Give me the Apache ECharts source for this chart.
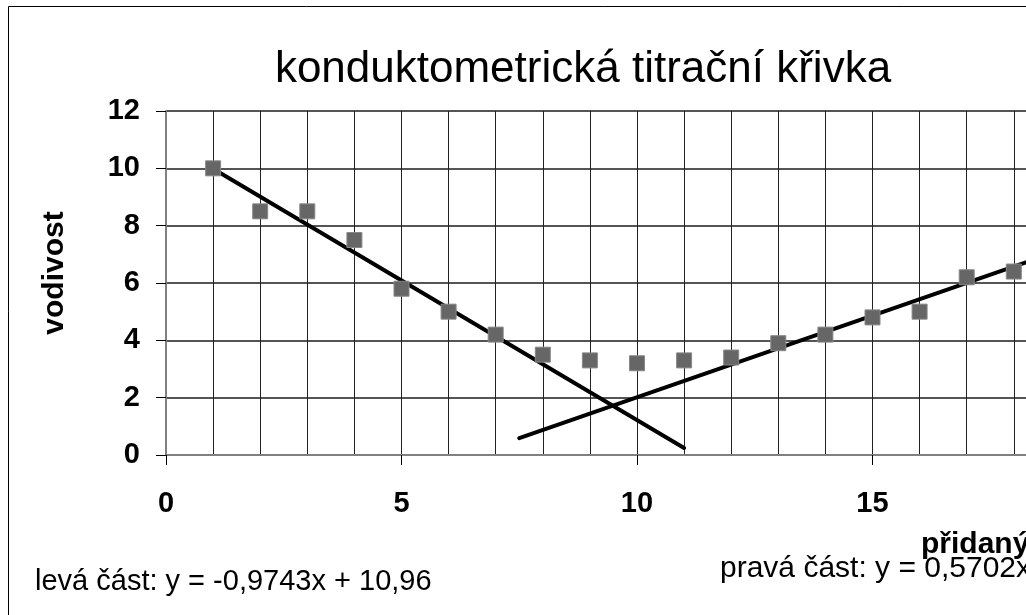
<!DOCTYPE html>
<html><head><meta charset="utf-8">
<script src="https://cdn.jsdelivr.net/npm/echarts@6/dist/echarts.min.js"></script>
<style>html,body{margin:0;padding:0;background:#fff;overflow:hidden;width:1026px;height:615px}#c{width:1200px;height:615px}</style>
</head><body><div id="c"></div>
<script>
const xValues = [1,2,3,4,5,6,7,8,9,10,11,12,13,14,15,16,17,18];
const yValues = [10,8.5,8.5,7.5,5.8,5.0,4.2,3.5,3.3,3.2,3.3,3.4,3.9,4.2,4.8,5.0,6.2,6.4];
const leftFit = {slope:-0.9743, intercept:10.96, from:1, to:11};
const rightFit = {slope:0.5702, intercept:-3.69, from:7.5, to:20};
const titleText = 'konduktometrická titrační křivka';
const yTitle = 'vodivost';
const xTitle = 'přidaný objem';
const leftEq = 'levá část: y = -0,9743x + 10,96';
const rightEq = 'pravá část: y = 0,5702x - 3,69';

const pts = xValues.map((x,i)=>[x,yValues[i]]);
const line = f => [[f.from, f.slope*f.from+f.intercept],[f.to, f.slope*f.to+f.intercept]];
const font = 'Liberation Sans, Arial, sans-serif';
const chart = echarts.init(document.getElementById('c'));
chart.setOption({
  animation:false,
  backgroundColor:'#fff',
  title:{text:titleText,left:578,top:43,textAlign:'center',
    textStyle:{fontFamily:font,fontSize:44,fontWeight:'normal',color:'#000'}},
  grid:{left:166,right:92,top:111,bottom:160},
  xAxis:{type:'value',min:0,max:20,interval:5,
    axisLine:{onZero:false,lineStyle:{color:'#808080',width:2}},
    axisTick:{show:true,length:10,lineStyle:{color:'#000',width:1}},
    axisLabel:{fontFamily:font,fontSize:29,fontWeight:'bold',color:'#000',margin:34},
    splitLine:{show:true,lineStyle:{color:'#222',width:1}},
    minorTick:{show:false,splitNumber:5},
    minorSplitLine:{show:true,lineStyle:{color:'#222',width:1}}},
  yAxis:{type:'value',min:0,max:12,interval:2,
    axisLine:{show:true,lineStyle:{color:'#808080',width:2}},
    axisTick:{show:true,length:10,lineStyle:{color:'#000',width:1}},
    axisLabel:{fontFamily:font,fontSize:29,fontWeight:'bold',color:'#000',margin:26},
    splitLine:{show:true,lineStyle:{color:'#555',width:2}}},
  series:[
    {type:'line',data:line(leftFit),symbol:'none',lineStyle:{color:'#000',width:4,cap:'round'},z:3},
    {type:'line',data:line(rightFit),symbol:'none',lineStyle:{color:'#000',width:4,cap:'round'},z:3},
    {type:'scatter',data:pts,symbol:'rect',symbolSize:15,
      itemStyle:{color:'#666',borderColor:'#888',borderWidth:1,opacity:1},z:4}
  ],
  graphic:[
    {type:'rect',shape:{x:8.5,y:6.5,width:2000,height:2000},style:{fill:'none',stroke:'#000',lineWidth:1},z:-1},
    {type:'text',x:55,y:273,rotation:Math.PI/2,style:{text:yTitle,fontFamily:font,fontSize:30,fontWeight:'bold',fill:'#000',align:'center',verticalAlign:'middle'}},
    {type:'text',x:921,y:530,style:{text:xTitle,fontFamily:font,fontSize:30,fontWeight:'bold',fill:'#000'}},
    {type:'text',x:720,y:554,style:{text:rightEq,fontFamily:font,fontSize:30,fill:'#000'}},
    {type:'text',x:35,y:567,style:{text:leftEq,fontFamily:font,fontSize:29,fill:'#000'}}
  ]
});
</script></body></html>
